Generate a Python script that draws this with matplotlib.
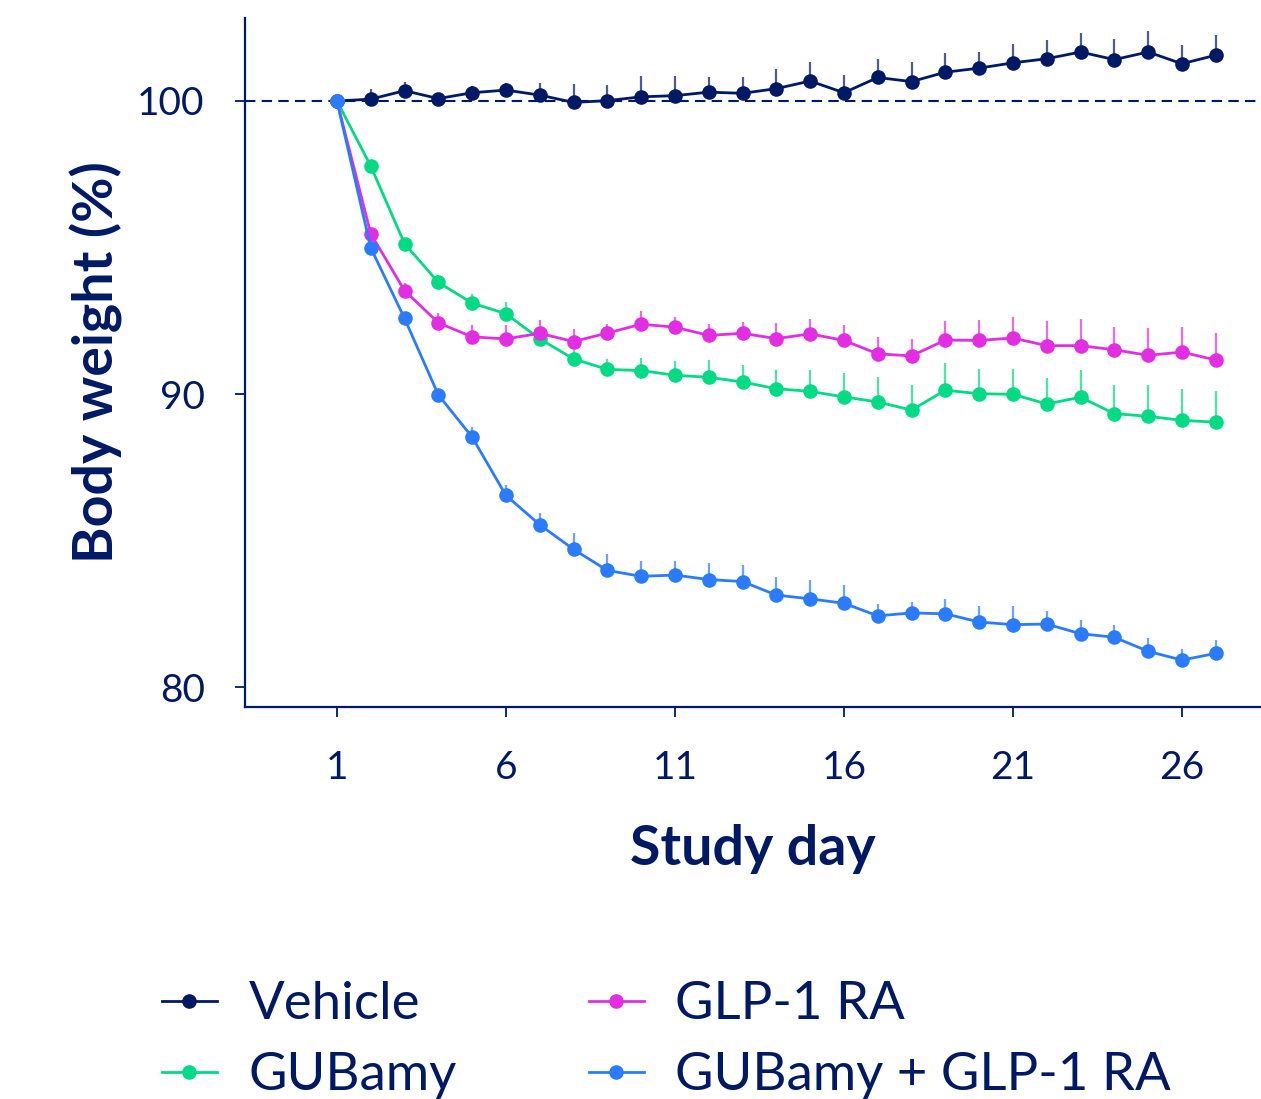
import matplotlib
matplotlib.use("Agg")
import matplotlib.pyplot as plt
import numpy as np

plt.rcParams['font.family'] = ['Lato', 'DejaVu Sans']

days = list(range(1, 28))

vehicle = [100.0, 100.06, 100.35, 100.08, 100.28, 100.37, 100.2, 99.95, 100.01, 100.14,
           100.18, 100.3, 100.26, 100.42, 100.68, 100.28, 100.8, 100.66, 100.98, 101.12,
           101.3, 101.44, 101.67, 101.41, 101.67, 101.27, 101.56]
vehicle_err = [0.0, 0.35, 0.3, 0.2, 0.23, 0.25, 0.42, 0.62, 0.55, 0.7,
               0.66, 0.53, 0.56, 0.67, 0.65, 0.6, 0.63, 0.67, 0.65, 0.56,
               0.65, 0.65, 0.66, 0.69, 0.72, 0.65, 0.68]

gubamy = [100.0, 97.78, 95.13, 93.81, 93.1, 92.74, 91.88, 91.2, 90.84, 90.8,
          90.64, 90.57, 90.41, 90.18, 90.09, 89.9, 89.73, 89.45, 90.13, 90.01,
          89.99, 89.66, 89.89, 89.33, 89.24, 89.1, 89.04]
gubamy_err = [0.0, 0.15, 0.2, 0.25, 0.3, 0.4, 0.3, 0.3, 0.36, 0.43,
              0.48, 0.58, 0.57, 0.64, 0.73, 0.8, 0.84, 0.86, 0.93, 0.85,
              0.85, 0.9, 0.94, 0.99, 1.07, 1.07, 1.06]

glp1 = [100.0, 95.47, 93.53, 92.43, 91.95, 91.88, 92.07, 91.79, 92.08, 92.38,
        92.28, 92.0, 92.07, 91.89, 92.05, 91.83, 91.37, 91.3, 91.84, 91.83,
        91.91, 91.65, 91.65, 91.51, 91.32, 91.43, 91.16]
glp1_err = [0.0, 0.15, 0.27, 0.32, 0.41, 0.48, 0.44, 0.43, 0.31, 0.45,
            0.35, 0.4, 0.4, 0.53, 0.5, 0.53, 0.57, 0.59, 0.64, 0.69,
            0.71, 0.84, 0.91, 0.77, 0.92, 0.86, 0.93]

combo = [100.0, 94.99, 92.58, 89.97, 88.53, 86.54, 85.54, 84.7, 83.98, 83.78,
         83.82, 83.67, 83.6, 83.14, 83.01, 82.86, 82.43, 82.53, 82.5, 82.22,
         82.13, 82.15, 81.82, 81.7, 81.22, 80.92, 81.15]
combo_err = [0.0, 0.15, 0.2, 0.2, 0.36, 0.34, 0.41, 0.55, 0.57, 0.53,
             0.49, 0.56, 0.56, 0.61, 0.63, 0.62, 0.42, 0.38, 0.52, 0.53,
             0.62, 0.44, 0.47, 0.42, 0.44, 0.38, 0.45]

labels = ["Vehicle", "GUBamy", "GLP-1 RA", "GUBamy + GLP-1 RA"]
xticks = [1, 6, 11, 16, 21, 26]
yticks = [80, 90, 100]

NAVY = '#001965'
colors = [NAVY, '#00DB84', '#E22DE2', '#2B7BFF']
series = [vehicle, gubamy, glp1, combo]
errs = [vehicle_err, gubamy_err, glp1_err, combo_err]

fig = plt.figure(figsize=(12.61, 10.99), dpi=100)
ax = fig.add_axes([245/1261, 1-707/1099, 1-245/1261, (707-18)/1099])

ax.axhline(100, color=NAVY, lw=1.5, ls=(0, (5, 3)), zorder=1)

handles = {}
order = [3, 1, 2, 0]
for i in order:
    y = np.array(series[i]); e = np.array(errs[i])
    ax.errorbar(days, y, yerr=[np.zeros_like(e), e], fmt='none',
                ecolor=colors[i], elinewidth=1.6, capsize=0, alpha=0.7, zorder=2+i)
    h, = ax.plot(days, y, '-o', color=colors[i], lw=2.0, markersize=10.5,
                 markeredgewidth=0, zorder=3+i, label=labels[i])
    handles[i] = h

ax.set_xlim(-1.72, 28.34)
ax.set_ylim(79.32, 102.83)
ax.set_xticks(xticks)
ax.set_yticks(yticks)
for s in ['top', 'right']:
    ax.spines[s].set_visible(False)
for s in ['left', 'bottom']:
    ax.spines[s].set_color(NAVY)
    ax.spines[s].set_linewidth(1.6)
ax.tick_params(axis='both', colors=NAVY, labelcolor=NAVY, length=7, width=1.3,
               labelsize=28)
ax.tick_params(axis='y', pad=22)
ax.tick_params(axis='x', pad=24)

ax.set_xlabel("Study day", fontsize=40, fontweight='bold', color=NAVY, labelpad=27)
ax.set_ylabel("Body weight (%)", fontsize=40, fontweight='bold', color=NAVY, labelpad=10)

leg = fig.legend([handles[0], handles[1], handles[2], handles[3]],
                 [labels[0], labels[1], labels[2], labels[3]],
                 loc='lower left', bbox_to_anchor=(162/1261, 0.0), ncol=2,
                 frameon=False, fontsize=38, handlelength=1.04, handletextpad=0.6,
                 columnspacing=2.5, labelspacing=0.45, markerscale=1.0,
                 borderpad=0.0, borderaxespad=0.0, labelcolor=NAVY)

fig.savefig("out.png", dpi=100)
